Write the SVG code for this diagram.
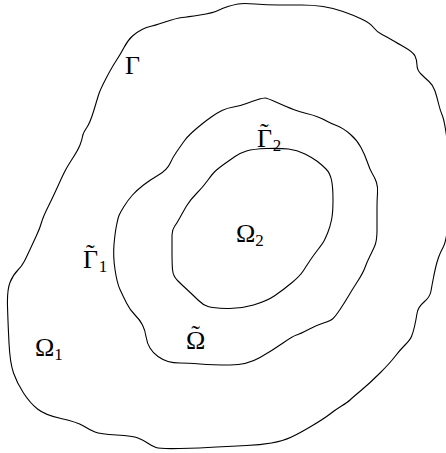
<svg xmlns="http://www.w3.org/2000/svg" width="446" height="453" viewBox="0 0 446 453">
<style>
.c{fill:none;stroke:#000;stroke-width:1.1;stroke-linejoin:round}
.t{font-family:"Liberation Serif","DejaVu Serif",serif;font-size:26px;fill:#000}
.s{font-size:17px}
</style>
<rect width="446" height="453" fill="#fff"/>
<g id="curves">
<path id="gamma" class="c" d="M7.5,306.5 Q7,290 10,282.5 Q13,275 17.5,270.5 Q22,266 24.5,261 Q27,256 30,249.5 Q33,243 36.5,235.5 Q40,228 41.5,222.5 Q43,217 48,207 Q53,197 57.5,187 Q62,177 64.5,172 Q67,167 72.5,158.5 Q78,150 80,145 Q82,140 82.5,136.5 Q83,133 86.5,128 Q90,123 93.5,111.5 Q97,100 98.5,95 Q100,90 106,78.5 Q112,67 116,61 Q120,55 124,47.5 Q128,40 132.5,36 Q137,32 142,29.5 Q147,27 150,26.5 Q153,26 165,22 Q177,18 182,17.5 Q187,17 200,15 Q213,13 218,10.5 Q223,8 228,6.5 Q233,5 238,4 Q243,3 255,4 Q267,5 278.5,5 Q290,5 301.5,5 Q313,5 323,6.5 Q333,8 343,11.5 Q353,15 361.5,19 Q370,23 373.5,27.5 Q377,32 382,34.5 Q387,37 392,40 Q397,43 405,47.5 Q413,52 415,56 Q417,60 417,65 Q417,70 421,74 Q425,78 429,81.5 Q433,85 435,91 Q437,97 438.5,103.5 Q440,110 442.5,116 Q445,122 448.5,151 Q452,180 449.5,210 Q447,240 443.5,246.5 Q440,253 438.5,257.5 Q437,262 436,266 Q435,270 433.5,277.5 Q432,285 431,291 Q430,297 424,302 Q418,307 417,313.5 Q416,320 414.5,326.5 Q413,333 411.5,336.5 Q410,340 405,345 Q400,350 395,356.5 Q390,363 380,373 Q370,383 361,390.5 Q352,398 350,400 Q348,402 341.5,406 Q335,410 330,414 Q325,418 312.5,425.5 Q300,433 291.5,437 Q283,441 271.5,443 Q260,445 246.5,445.5 Q233,446 216.5,447 Q200,448 180,448.5 Q160,449 156,447.5 Q152,446 147.5,443 Q143,440 138,438 Q133,436 116.5,435 Q100,434 95,432 Q90,430 83.5,426 Q77,422 61,418.5 Q45,415 37.5,409 Q30,403 23.5,393 Q17,383 13.5,373 Q10,363 9,343 Q8,323 7.5,306.5 Z"/>
<path id="gamma1" class="c" d="M115,269.5 Q113,256 114,244.5 Q115,233 116.5,225.5 Q118,218 119,215.5 Q120,213 124,206.5 Q128,200 132.5,195 Q137,190 143.5,185 Q150,180 158.5,175 Q167,170 170,163.5 Q173,157 176.5,152 Q180,147 183.5,142 Q187,137 192,132.5 Q197,128 202,124 Q207,120 212,116.5 Q217,113 222,110.5 Q227,108 233.5,107 Q240,106 246.5,103.5 Q253,101 258,99.5 Q263,98 265,98 Q267,98 277,102.5 Q287,107 293.5,109.5 Q300,112 306.5,113.5 Q313,115 318,117 Q323,119 326.5,121 Q330,123 336.5,125.5 Q343,128 350,134 Q357,140 361,147.5 Q365,155 367.5,162.5 Q370,170 372.5,174 Q375,178 376.5,182.5 Q378,187 377.5,193.5 Q377,200 377,210 Q377,220 377,230.5 Q377,241 374.5,246.5 Q372,252 369.5,257 Q367,262 365,267.5 Q363,273 357.5,281.5 Q352,290 348.5,296 Q345,302 340,309.5 Q335,317 332.5,319 Q330,321 323.5,323 Q317,325 308.5,329.5 Q300,334 296.5,335 Q293,336 283,343 Q273,350 260,357.5 Q247,365 230,365 Q213,365 200,364 Q187,363 180,363 Q173,363 168,361.5 Q163,360 158,356.5 Q153,353 150,348 Q147,343 146,336.5 Q145,330 142.5,325 Q140,320 135,315 Q130,310 126.5,303 Q123,296 120,289.5 Q117,283 115,269.5 Z"/>
<path id="gamma2" class="c" d="M172.5,269.5 Q172,263 172,251.5 Q172,240 172,235 Q172,230 174.5,226.5 Q177,223 180,217.5 Q183,212 186.5,206 Q190,200 196.5,193.5 Q203,187 208,180 Q213,173 216.5,170 Q220,167 225,163.5 Q230,160 235,156.5 Q240,153 246.5,151 Q253,149 266.5,148.5 Q280,148 288.5,149 Q297,150 305,154 Q313,158 317.5,161.5 Q322,165 326,169 Q330,173 331.5,180 Q333,187 333,200 Q333,213 331.5,220 Q330,227 328,232 Q326,237 324.5,240 Q323,243 318,249.5 Q313,256 310,260.5 Q307,265 303.5,270.5 Q300,276 291.5,283 Q283,290 275,295.5 Q267,301 253.5,305 Q240,309 226.5,308.5 Q213,308 208,306.5 Q203,305 198,300 Q193,295 187.5,290 Q182,285 177.5,280.5 Q173,276 172.5,269.5 Z"/>
</g>
<g id="labels">
<text class="t" x="125" y="74">Γ</text>
<text class="t" x="257" y="147">Γ<tspan dx="-12" dy="-6">˜</tspan><tspan class="s" dx="4" dy="10">2</tspan></text>
<text class="t" x="236" y="242">Ω<tspan class="s" dy="4">2</tspan></text>
<text class="t" x="83" y="268">Γ<tspan dx="-12" dy="-6">˜</tspan><tspan class="s" dx="4" dy="10">1</tspan></text>
<text class="t" x="186" y="349">Ω<tspan dx="-14" dy="-6">˜</tspan></text>
<text class="t" x="35" y="356">Ω<tspan class="s" dy="4">1</tspan></text>
</g>
</svg>
